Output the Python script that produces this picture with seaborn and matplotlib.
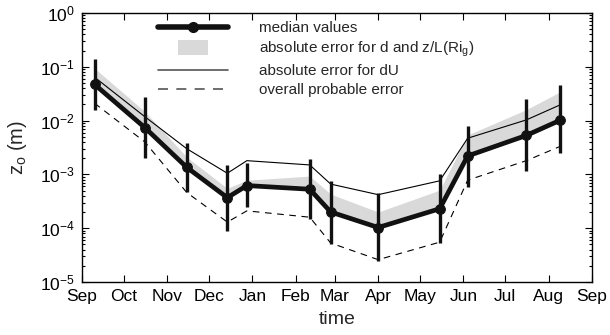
import numpy as np
import pandas as pd
import matplotlib
matplotlib.use("Agg")
import matplotlib.pyplot as plt
import matplotlib.dates as mdates
from matplotlib.lines import Line2D
from matplotlib.patches import Rectangle
from matplotlib.legend_handler import HandlerPatch
import seaborn as sns

# ---- data ----
dates = ["2006-09-10", "2006-10-16", "2006-11-15", "2006-12-14", "2006-12-28",
         "2007-02-11", "2007-02-26", "2007-04-01", "2007-05-15", "2007-06-04",
         "2007-07-16", "2007-08-09"]
median = [0.047, 0.0074, 0.00135, 0.00037, 0.00062, 0.00053, 0.00020,
          0.000103, 0.00023, 0.0022, 0.0053, 0.0101]
err_hi = [0.14, 0.027, 0.0038, 0.0015, 0.0016, 0.0019, 0.00076, 0.00045,
          0.0010, 0.008, 0.025, 0.045]
err_lo = [0.016, 0.002, 0.00047, 0.000088, 0.00025, 0.00015, 0.000051,
          0.000025, 0.000054, 0.00059, 0.00115, 0.0025]
band_hi = [0.094, 0.0147, 0.0021, 0.00055, 0.00078, 0.00093, 0.00043,
           0.00020, 0.00051, 0.0054, 0.016, 0.034]
du_err = [0.064, 0.0118, 0.0030, 0.00105, 0.0018, 0.0015, 0.00066,
          0.00042, 0.00076, 0.0047, 0.0103, 0.0195]
prob_err = [0.021, 0.0040, 0.00046, 0.00013, 0.00021, 0.00016, 0.000053,
            0.000026, 0.000055, 0.00078, 0.0018, 0.0033]
month_labels = ["Sep", "Oct", "Nov", "Dec", "Jan", "Feb", "Mar", "Apr",
                "May", "Jun", "Jul", "Aug", "Sep"]
legend_labels = ["median values", "absolute error for d and z/L(Ri$_g$)",
                 "absolute error for dU", "overall probable error"]

df = pd.DataFrame({"date": pd.to_datetime(dates), "median": median,
                   "hi": err_hi, "lo": err_lo, "band": band_hi,
                   "du": du_err, "prob": prob_err})

# ---- style ----
sns.set_style("ticks")
plt.rcParams["font.family"] = ["Liberation Sans", "DejaVu Sans"]
plt.rcParams["mathtext.fontset"] = "custom"
plt.rcParams["mathtext.rm"] = "Liberation Sans"
plt.rcParams["mathtext.it"] = "Liberation Sans"
plt.rcParams["mathtext.default"] = "regular"

fig = plt.figure(figsize=(6.10, 3.35), dpi=100)
ax = fig.add_axes([82 / 610, 1 - 282 / 335, 510 / 610, 269 / 335])

gray = "#d9d9d9"
ax.fill_between(df["date"], df["median"], df["band"], color=gray, lw=0, zorder=1)
sns.lineplot(data=df, x="date", y="du", ax=ax, color="black", lw=0.8, zorder=2)
sns.lineplot(data=df, x="date", y="prob", ax=ax, color="black", lw=0.8,
             dashes=False, zorder=2).lines[-1].set_dashes([6, 5])
ax.vlines(df["date"], df["lo"], df["hi"], color="#111111", lw=2.4, zorder=3)
sns.lineplot(data=df, x="date", y="median", ax=ax, color="#111111", lw=3.4,
             marker="o", markersize=7, markeredgecolor="#111111", zorder=4)

ax.set_yscale("log")
ax.set_ylim(1e-5, 1)
ax.set_xlim(pd.Timestamp("2006-09-01"), pd.Timestamp("2007-09-01"))
ax.xaxis.set_major_locator(mdates.MonthLocator())
ax.set_xticks(ax.get_xticks())
ax.set_xticklabels(month_labels)
ax.set_yticks([10.0 ** e for e in range(-5, 1)])
ax.set_yticklabels(["$10^{%d}$" % e for e in range(-5, 1)])
ax.yaxis.set_minor_locator(matplotlib.ticker.LogLocator(base=10, subs=np.arange(2, 10)))
ax.yaxis.set_minor_formatter(matplotlib.ticker.NullFormatter())

ax.tick_params(which="both", direction="in", top=True, right=True,
               labelsize=12.5, width=0.8, colors="black")
ax.tick_params(which="major", length=5, pad=5)
ax.tick_params(which="minor", length=2.5)
for s in ax.spines.values():
    s.set_linewidth(1.0)
    s.set_color("black")

ax.set_xlabel("time", fontsize=14, labelpad=5)
ax.set_ylabel("z$_o$ (m)", fontsize=14.5, labelpad=8)

# ---- legend ----
class CenterPatch(HandlerPatch):
    def create_artists(self, legend, orig_handle, xdescent, ydescent, width,
                       height, fontsize, trans):
        w = width * 0.42
        h = height * 1.4
        r = Rectangle((-xdescent + (width - w) / 2, -ydescent + (height - h) / 2),
                      w, h, facecolor=gray, edgecolor="none", transform=trans)
        return [r]

handles = [
    Line2D([], [], color="#111111", lw=4, marker="o", markersize=7),
    Rectangle((0, 0), 1, 1, facecolor=gray, edgecolor="none"),
    Line2D([], [], color="#555555", lw=1.2),
    Line2D([], [], color="#555555", lw=1.2, dashes=[6, 5]),
]
ax.legend(handles, legend_labels, loc="upper left",
          bbox_to_anchor=(158 / 610, 1 - 21 / 335), bbox_transform=fig.transFigure,
          frameon=False, fontsize=11, handlelength=4.6, handletextpad=2.0,
          labelspacing=0.33, borderpad=0, borderaxespad=0,
          handler_map={Rectangle: CenterPatch()})

fig.savefig("out.png", dpi=100)
